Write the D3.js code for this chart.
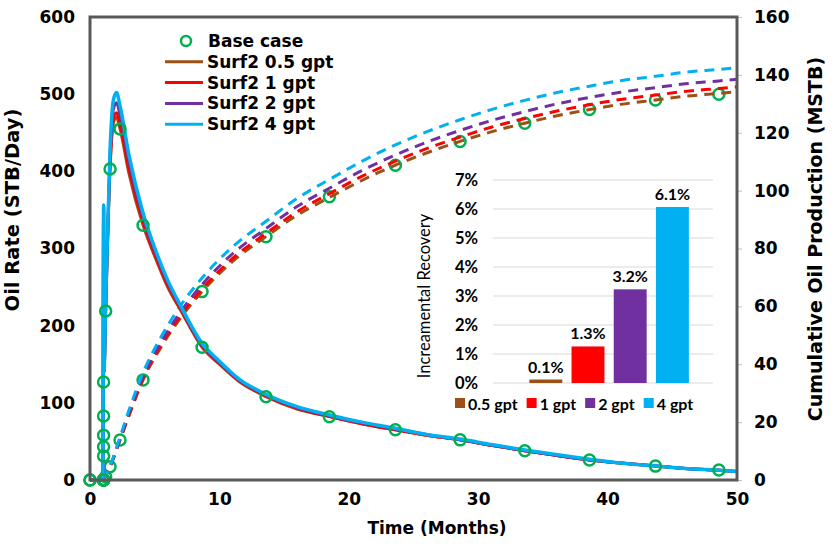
<!DOCTYPE html>
<html>
<head>
<meta charset="utf-8">
<script src="https://cdn.jsdelivr.net/npm/d3@7"></script>
<style>
  body { margin: 0; background: #fff; }
  text { font-family: "DejaVu Sans", Verdana, sans-serif; }
  .inset text { font-family: Lato, "Open Sans", sans-serif; }
</style>
</head>
<body>
<div id="chart"></div>
<script>
// ---- data ----
const seriesNames = ["Surf2 0.5 gpt", "Surf2 1 gpt", "Surf2 2 gpt", "Surf2 4 gpt"];
const seriesColors = ["#9C5016", "#FF0000", "#7030A0", "#00B0F0"];

// oil rate (STB/Day) vs time (months)
const rateTime = [0, 1.0, 1.05, 1.08, 1.21, 1.55, 1.8, 2.05, 2.32, 3.0, 4.1, 5.0, 6.0, 7.0, 8.66, 10, 11.5, 13.6, 16, 18.6, 21, 23.6, 26, 28.6, 31, 33.6, 36, 38.6, 41, 43.7, 46, 48.6, 50];
const rate05 = [0, 0, 356, 140, 219, 403, 462, 470, 455, 398, 330, 290, 250, 220, 172, 150, 128, 108, 92, 82, 73, 65, 58, 52, 45, 38, 32, 26, 22, 18, 15, 12.5, 11];
const rate1  = [0, 0, 356, 140, 222, 408, 468, 476, 461, 404, 335, 293, 253, 222, 174, 151, 129, 109, 93, 82, 73, 65, 58, 52, 45, 38, 32, 26, 22, 18, 15, 12.5, 11];
const rate2  = [0, 0, 356, 140, 226, 418, 480, 489, 473, 413, 340, 297, 256, 224, 175, 152, 130, 110, 94, 83, 74, 66, 59, 52, 45, 38, 32, 26, 22, 18, 15, 12.5, 11];
const rate4  = [0, 0, 356, 140, 230, 428, 492, 502, 485, 422, 346, 301, 259, 226, 177, 154, 131, 111, 95, 84, 75, 67, 59, 53, 46, 39, 33, 27, 22, 18, 15, 12.5, 11];

// cumulative oil (MSTB) vs time (months)
const cumTime = [1.05, 1.55, 2.32, 3.0, 4.1, 5.5, 7.0, 8.66, 11, 13.6, 16, 18.6, 21, 23.6, 26, 28.6, 31, 33.6, 36, 38.6, 41, 43.7, 46, 48.6, 50];
const cum05 = [0, 4.6, 13.8, 22, 34.6, 46, 56, 65.1, 75.5, 84.1, 91.5, 97.9, 103.5, 108.8, 113, 117, 120.3, 123.3, 125.8, 128, 129.8, 131.3, 132.6, 133.6, 134.2];
const cum1  = [0, 4.6, 14.0, 22.5, 35.1, 46.7, 56.8, 66.0, 76.5, 85.2, 92.7, 99.2, 104.9, 110.2, 114.5, 118.5, 121.9, 124.9, 127.4, 129.7, 131.5, 133.0, 134.3, 135.3, 135.9];
const cum2  = [0, 4.7, 14.3, 23.0, 35.8, 47.7, 58.1, 67.5, 78.1, 86.9, 94.5, 101.1, 106.9, 112.3, 116.7, 120.8, 124.2, 127.3, 129.9, 132.2, 134.0, 135.6, 136.9, 137.9, 138.5];
const cum4  = [0, 4.8, 14.8, 24.0, 37.1, 49.5, 60.3, 69.8, 80.5, 89.4, 97.3, 104.1, 110.1, 115.8, 120.3, 124.5, 128.0, 131.2, 133.8, 136.1, 138.0, 139.5, 140.9, 141.9, 142.5];

// base case markers
const baseTime = [0, 1.05, 1.05, 1.05, 1.05, 1.05, 1.05, 1.21, 1.55, 2.32, 4.1, 8.66, 13.6, 18.5, 23.6, 28.6, 33.6, 38.6, 43.7, 48.6];
const baseRate = [0, 0, 31, 43, 58, 83, 127, 219, 403, 455, 330, 172, 108, 82, 65, 52, 38, 26, 18, 13];
const baseCum  = [0, 0, 0, 0, 0.1, 0.1, 0.2, 1.1, 4.6, 13.8, 34.6, 65.1, 84.1, 97.9, 108.8, 117, 123.3, 128, 131.3, 133.3];

// inset bar chart
const barLabels = ["0.5 gpt", "1 gpt", "2 gpt", "4 gpt"];
const barValues = [0.0012, 0.0126, 0.0323, 0.0607];
const barTicks = [0, 0.01, 0.02, 0.03, 0.04, 0.05, 0.06, 0.07];

const rateSeries = [rate05, rate1, rate2, rate4];
const cumSeries = [cum05, cum1, cum2, cum4];

const margin = {top: 17, right: 98, bottom: 66, left: 90};
const width = 835 - margin.left - margin.right;
const height = 546 - margin.top - margin.bottom;
const green = "#00B050";

const svg = d3.select("#chart")
    .append("svg")
    .attr("width", 835)
    .attr("height", 546)
    .append("g")
    .attr("transform", `translate(${margin.left}, ${margin.top})`);

const x = d3.scaleLinear().domain([0, 50]).range([0, width]);
const yRate = d3.scaleLinear().domain([0, 600]).range([height, 0]);
const yCum = d3.scaleLinear().domain([0, 160]).range([height, 0]);

// axes
svg.append("g")
    .call(d3.axisLeft(yRate).tickValues(d3.range(0, 601, 100)).tickSize(0).tickPadding(15))
    .call(g => g.select(".domain").remove())
    .selectAll("text")
    .style("font-size", "17px").style("font-weight", "bold").attr("fill", "#000");

svg.append("g")
    .attr("transform", `translate(${width}, 0)`)
    .call(d3.axisRight(yCum).tickValues(d3.range(0, 161, 20)).tickSize(5).tickPadding(12))
    .call(g => g.select(".domain").remove())
    .call(g => g.selectAll("line").attr("stroke", "#bfbfbf"))
    .selectAll("text")
    .style("font-size", "17px").style("font-weight", "bold").attr("fill", "#000");

svg.append("g")
    .attr("transform", `translate(0, ${height})`)
    .call(d3.axisBottom(x).tickValues(d3.range(0, 51, 10)).tickSize(0).tickPadding(13))
    .call(g => g.select(".domain").remove())
    .selectAll("text")
    .style("font-size", "17px").style("font-weight", "bold").attr("fill", "#000");

// axis titles
svg.append("text")
    .attr("transform", `translate(${-71}, ${193}) rotate(-90)`)
    .attr("text-anchor", "middle")
    .style("font-size", "19.5px").style("font-weight", "bold")
    .text("Oil Rate (STB/Day)");

svg.append("text")
    .attr("transform", `translate(${width + 85}, ${222}) rotate(-90)`)
    .attr("text-anchor", "middle")
    .style("font-size", "19px").style("font-weight", "bold")
    .text("Cumulative Oil Production (MSTB)");

svg.append("text")
    .attr("x", 347)
    .attr("y", height + 54)
    .attr("text-anchor", "middle")
    .style("font-size", "17px").style("font-weight", "bold")
    .text("Time (Months)");

// base case cumulative markers (sit under the dashes)
svg.selectAll(".cumMarker")
    .data(baseTime.map((t, i) => ({t: t, v: baseCum[i]})))
    .enter()
    .append("circle")
    .attr("class", "cumMarker")
    .attr("cx", d => x(d.t))
    .attr("cy", d => yCum(d.v))
    .attr("r", 5.5)
    .attr("fill", "none")
    .attr("stroke", green)
    .attr("stroke-width", 2.5);

// cumulative dashed lines
const cumLine = d3.line()
    .x(d => x(d.t))
    .y(d => yCum(d.v))
    .curve(d3.curveMonotoneX);

cumSeries.forEach((s, k) => {
    svg.append("path")
        .datum(cumTime.map((t, i) => ({t: t, v: s[i]})))
        .attr("d", cumLine)
        .attr("fill", "none")
        .attr("stroke", seriesColors[k])
        .attr("stroke-width", 3)
        .attr("stroke-dasharray", "10,7");
});

// rate lines
const rateLine = d3.line()
    .x(d => x(d.t))
    .y(d => yRate(d.v))
    .curve(d3.curveMonotoneX);

rateSeries.forEach((s, k) => {
    svg.append("path")
        .datum(rateTime.map((t, i) => ({t: t, v: s[i]})))
        .attr("d", rateLine)
        .attr("fill", "none")
        .attr("stroke", seriesColors[k])
        .attr("stroke-width", k == 3 ? 3.5 : 3)
        .attr("stroke-linejoin", "round");
});

// base case rate markers
svg.selectAll(".rateMarker")
    .data(baseTime.map((t, i) => ({t: t, v: baseRate[i]})))
    .enter()
    .append("circle")
    .attr("class", "rateMarker")
    .attr("cx", d => x(d.t))
    .attr("cy", d => yRate(d.v))
    .attr("r", 5.5)
    .attr("fill", "none")
    .attr("stroke", green)
    .attr("stroke-width", 2.5);

// plot frame
svg.append("rect")
    .attr("x", 0)
    .attr("y", 0)
    .attr("width", width)
    .attr("height", height)
    .attr("fill", "none")
    .attr("stroke", "#595959")
    .attr("stroke-width", 3);

// legend
const legend = svg.append("g").attr("transform", "translate(75, 24)");
legend.append("circle")
    .attr("cx", 21).attr("cy", 0).attr("r", 5)
    .attr("fill", "none").attr("stroke", green).attr("stroke-width", 2.5);
legend.append("text")
    .attr("x", 43).attr("y", 6)
    .style("font-size", "17px").style("font-weight", "bold")
    .text("Base case");
seriesNames.forEach((name, i) => {
    const yy = 20.8 * (i + 1);
    legend.append("line")
        .attr("x1", 0).attr("x2", 38)
        .attr("y1", yy).attr("y2", yy)
        .attr("stroke", seriesColors[i]).attr("stroke-width", 3);
    legend.append("text")
        .attr("x", 42).attr("y", yy + 6)
        .style("font-size", "17px").style("font-weight", "bold")
        .text(name);
});

// ---- inset: incremental recovery bars ----
const inset = d3.select("svg").append("g").attr("class", "inset");

const xb = d3.scaleBand()
    .domain(barLabels)
    .range([524.7, 693.5])
    .paddingInner(0.22)
    .paddingOuter(0.11);

const yb = d3.scaleLinear().domain([0, 0.07]).range([383, 180]);

inset.selectAll(".grid")
    .data(barTicks)
    .enter()
    .append("line")
    .attr("x1", 493).attr("x2", 713)
    .attr("y1", d => yb(d)).attr("y2", d => yb(d))
    .attr("stroke", "#d9d9d9").attr("stroke-width", 1);

inset.append("g")
    .attr("transform", "translate(478, 0)")
    .call(d3.axisLeft(yb).tickValues(barTicks).tickFormat(d3.format(".0%")).tickSize(0).tickPadding(0))
    .call(g => g.select(".domain").remove())
    .selectAll("text")
    .style("font-size", "16.5px").style("font-weight", "bold").attr("fill", "#000");

inset.append("text")
    .attr("transform", "translate(430, 296) rotate(-90)")
    .attr("text-anchor", "middle")
    .style("font-size", "16.5px")
    .text("Increamental Recovery");

inset.selectAll(".bar")
    .data(barValues)
    .enter()
    .append("rect")
    .attr("class", "bar")
    .attr("x", (d, i) => xb(barLabels[i]))
    .attr("y", d => yb(d))
    .attr("width", xb.bandwidth())
    .attr("height", d => yb(0) - yb(d))
    .attr("fill", (d, i) => seriesColors[i]);

inset.selectAll(".barLabel")
    .data(barValues)
    .enter()
    .append("text")
    .attr("x", (d, i) => xb(barLabels[i]) + xb.bandwidth() / 2)
    .attr("y", d => yb(d) - 7)
    .attr("text-anchor", "middle")
    .style("font-size", "16px").style("font-weight", "bold")
    .text(d => d3.format(".1%")(d));

// inset legend
let lx = 455;
barLabels.forEach((name, i) => {
    inset.append("rect")
        .attr("x", lx).attr("y", 398)
        .attr("width", 10).attr("height", 10)
        .attr("fill", seriesColors[i]);
    const t = inset.append("text")
        .attr("x", lx + 13).attr("y", 409.5)
        .style("font-size", "16px").style("font-weight", "bold")
        .text(name);
    lx += 13 + t.node().getComputedTextLength() + 9;
});
</script>
</body>
</html>
